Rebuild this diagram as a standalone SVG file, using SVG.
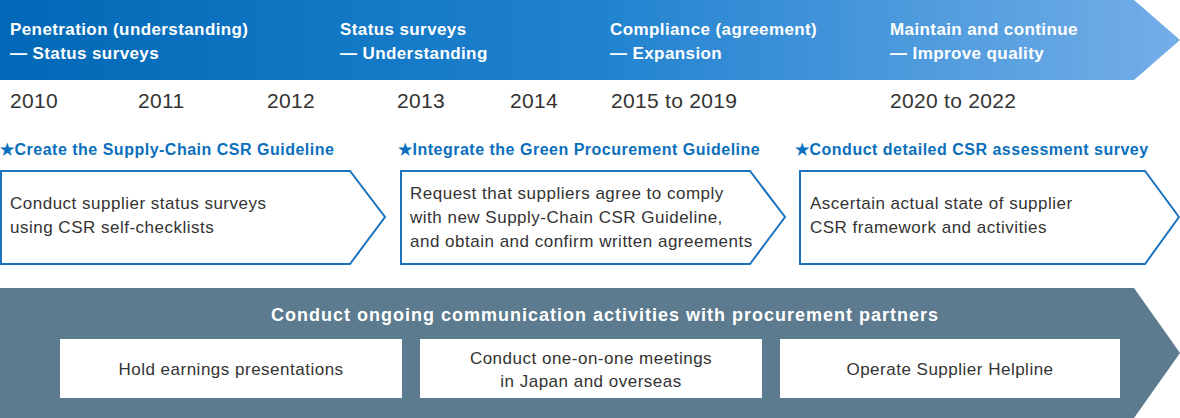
<svg xmlns="http://www.w3.org/2000/svg" width="1180" height="418" viewBox="0 0 1180 418">
<defs>
<linearGradient id="g" x1="0" x2="1" y1="0" y2="0">
<stop offset="0" stop-color="#0068b6"/><stop offset="0.5" stop-color="#1f82cf"/><stop offset="1" stop-color="#74aee8"/>
</linearGradient>
<style>
text{font-family:"Liberation Sans",Arial,sans-serif}
.h{fill:#fff;font-size:17px;font-weight:bold;letter-spacing:0.4px}
.y{fill:#333;font-size:21px;letter-spacing:0.3px}
.s{fill:#0a6fbd;font-size:16px;font-weight:bold;letter-spacing:0.5px}
.b{fill:#333;font-size:17px;letter-spacing:0.5px}
.box{fill:#fff;stroke:#1a73bf;stroke-width:2}
.w{fill:#fff}
.c{fill:#333;font-size:17px;letter-spacing:0.5px;text-anchor:middle}
.t{fill:#fff;font-size:18px;font-weight:bold;letter-spacing:1px;text-anchor:middle}
</style>
</defs>
<g id="banner">
<polygon points="0,0 1134,0 1180,40 1134,80 0,80" fill="url(#g)"/>
<text class="h" x="10" y="35">Penetration (understanding)</text>
<text class="h" x="10" y="59">— Status surveys</text>
<text class="h" x="340" y="35">Status surveys</text>
<text class="h" x="340" y="59">— Understanding</text>
<text class="h" x="610" y="35">Compliance (agreement)</text>
<text class="h" x="610" y="59">— Expansion</text>
<text class="h" x="890" y="35">Maintain and continue</text>
<text class="h" x="890" y="59">— Improve quality</text>
</g>
<g id="years">
<text class="y" x="10" y="108">2010</text>
<text class="y" x="138" y="108">2011</text>
<text class="y" x="267" y="108">2012</text>
<text class="y" x="397" y="108">2013</text>
<text class="y" x="510" y="108">2014</text>
<text class="y" x="611" y="108">2015 to 2019</text>
<text class="y" x="890" y="108">2020 to 2022</text>
</g>
<g id="step1">
<text class="s" x="0" y="155">★Create the Supply-Chain CSR Guideline</text>
<polygon class="box" points="1,171 350,171 385,217 350,264 1,264"/>
<text class="b" x="10" y="209">Conduct supplier status surveys</text>
<text class="b" x="10" y="233">using CSR self-checklists</text>
</g>
<g id="step2">
<text class="s" x="398" y="155">★Integrate the Green Procurement Guideline</text>
<polygon class="box" points="401,171 750,171 785,217 750,264 401,264"/>
<text class="b" x="410" y="199">Request that suppliers agree to comply</text>
<text class="b" x="410" y="223">with new Supply-Chain CSR Guideline,</text>
<text class="b" x="410" y="247">and obtain and confirm written agreements</text>
</g>
<g id="step3">
<text class="s" x="795" y="155">★Conduct detailed CSR assessment survey</text>
<polygon class="box" points="800,171 1145,171 1179,217 1145,264 800,264"/>
<text class="b" x="810" y="209">Ascertain actual state of supplier</text>
<text class="b" x="810" y="233">CSR framework and activities</text>
</g>
<g id="communication">
<polygon points="0,288 1134,288 1180,353 1134,418 0,418" fill="#5c7b8e"/>
<text class="t" x="605" y="321">Conduct ongoing communication activities with procurement partners</text>
<rect class="w" x="60" y="339" width="342" height="59"/>
<text class="c" x="231" y="375">Hold earnings presentations</text>
<rect class="w" x="420" y="339" width="342" height="59"/>
<text class="c" x="591" y="364">Conduct one-on-one meetings</text>
<text class="c" x="591" y="387">in Japan and overseas</text>
<rect class="w" x="780" y="339" width="340" height="59"/>
<text class="c" x="950" y="375">Operate Supplier Helpline</text>
</g>
<g id="connectors"/>
</svg>
